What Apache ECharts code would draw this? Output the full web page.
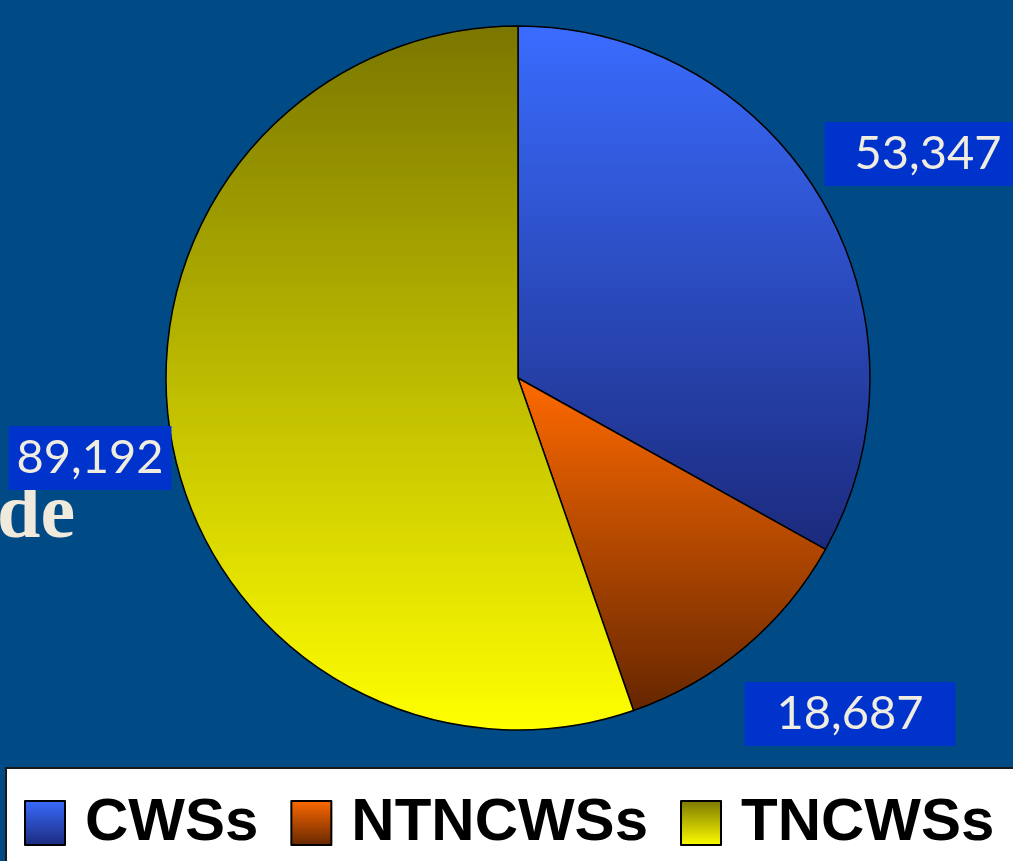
<!DOCTYPE html>
<html>
<head>
<meta charset="utf-8">
<style>
  html, body { margin: 0; padding: 0; background: #004b86; }
  #chart { width: 1013px; height: 861px; }
</style>
<script src="https://cdn.jsdelivr.net/npm/echarts@6/dist/echarts.min.js"></script>
</head>
<body>
<div id="chart"></div>
<script>
// data
const categories = ['CWSs', 'NTNCWSs', 'TNCWSs']
const values = [53347, 18687, 89192]
// vertical gradient stops per slice: [top, bottom]
const sliceColors = [
  ['#3a6cff', '#1b2a7c'],
  ['#ff6a00', '#652600'],
  ['#7a7600', '#ffff00']
]
// label box centres and paddings (layout only), same order as categories
const labelPos = [[928, 154], [850, 714], [90, 458]]
const labelPad = [[6, 30, 6, 30], [6, 32, 6, 32], [6, 8, 6, 8]]

const grad = (c) => new echarts.graphic.LinearGradient(0, 0, 0, 1, [
  { offset: 0, color: c[0] },
  { offset: 1, color: c[1] }
])

const chart = echarts.init(document.getElementById('chart'))

const option = {
  backgroundColor: '#004b86',
  animation: false,
  legend: {
    data: categories,
    left: 24,
    top: 793,
    width: 1000,
    padding: 0,
    icon: 'rect',
    itemWidth: 40,
    itemHeight: 44,
    itemGap: 32,
    itemStyle: { borderColor: '#000', borderWidth: 2 },
    textStyle: {
      fontFamily: '"Liberation Sans", Arial, sans-serif',
      fontWeight: 'bold',
      fontSize: 60,
      lineHeight: 44,
      color: '#000',
      padding: [0, 0, 0, 15]
    }
  },
  graphic: [
    {
      type: 'rect',
      z: -1,
      shape: { x: 6, y: 768, width: 1030, height: 110 },
      style: { fill: '#ffffff', stroke: '#1a1a1a', lineWidth: 2 }
    },
    {
      type: 'text',
      style: {
        text: 'de',
        x: -3,
        y: 556,
        verticalAlign: 'bottom',
        font: 'bold 78px "Liberation Serif", "DejaVu Serif", serif',
        fill: '#efeadc'
      }
    }
  ],
  series: [
    {
      type: 'pie',
      center: [518, 378],
      radius: [0, 352],
      startAngle: 90,
      clockwise: true,
      itemStyle: { borderColor: '#000', borderWidth: 1.5 },
      label: {
        show: true,
        position: 'inside',
        overflow: 'none',
        formatter: (p) => p.value.toLocaleString('en-US'),
        fontFamily: 'Lato, "Open Sans", sans-serif',
        fontSize: 47,
        lineHeight: 52,
        color: '#f0ece0',
        backgroundColor: '#0033cc'
      },
      labelLine: { show: false },
      labelLayout: (params) => ({
        x: labelPos[params.dataIndex][0],
        y: labelPos[params.dataIndex][1],
        align: 'center',
        verticalAlign: 'middle'
      }),
      emphasis: { disabled: true },
      data: categories.map((name, i) => ({
        name,
        value: values[i],
        itemStyle: { color: grad(sliceColors[i]) },
        label: { padding: labelPad[i] }
      }))
    }
  ]
}

chart.setOption(option)
</script>
</body>
</html>
